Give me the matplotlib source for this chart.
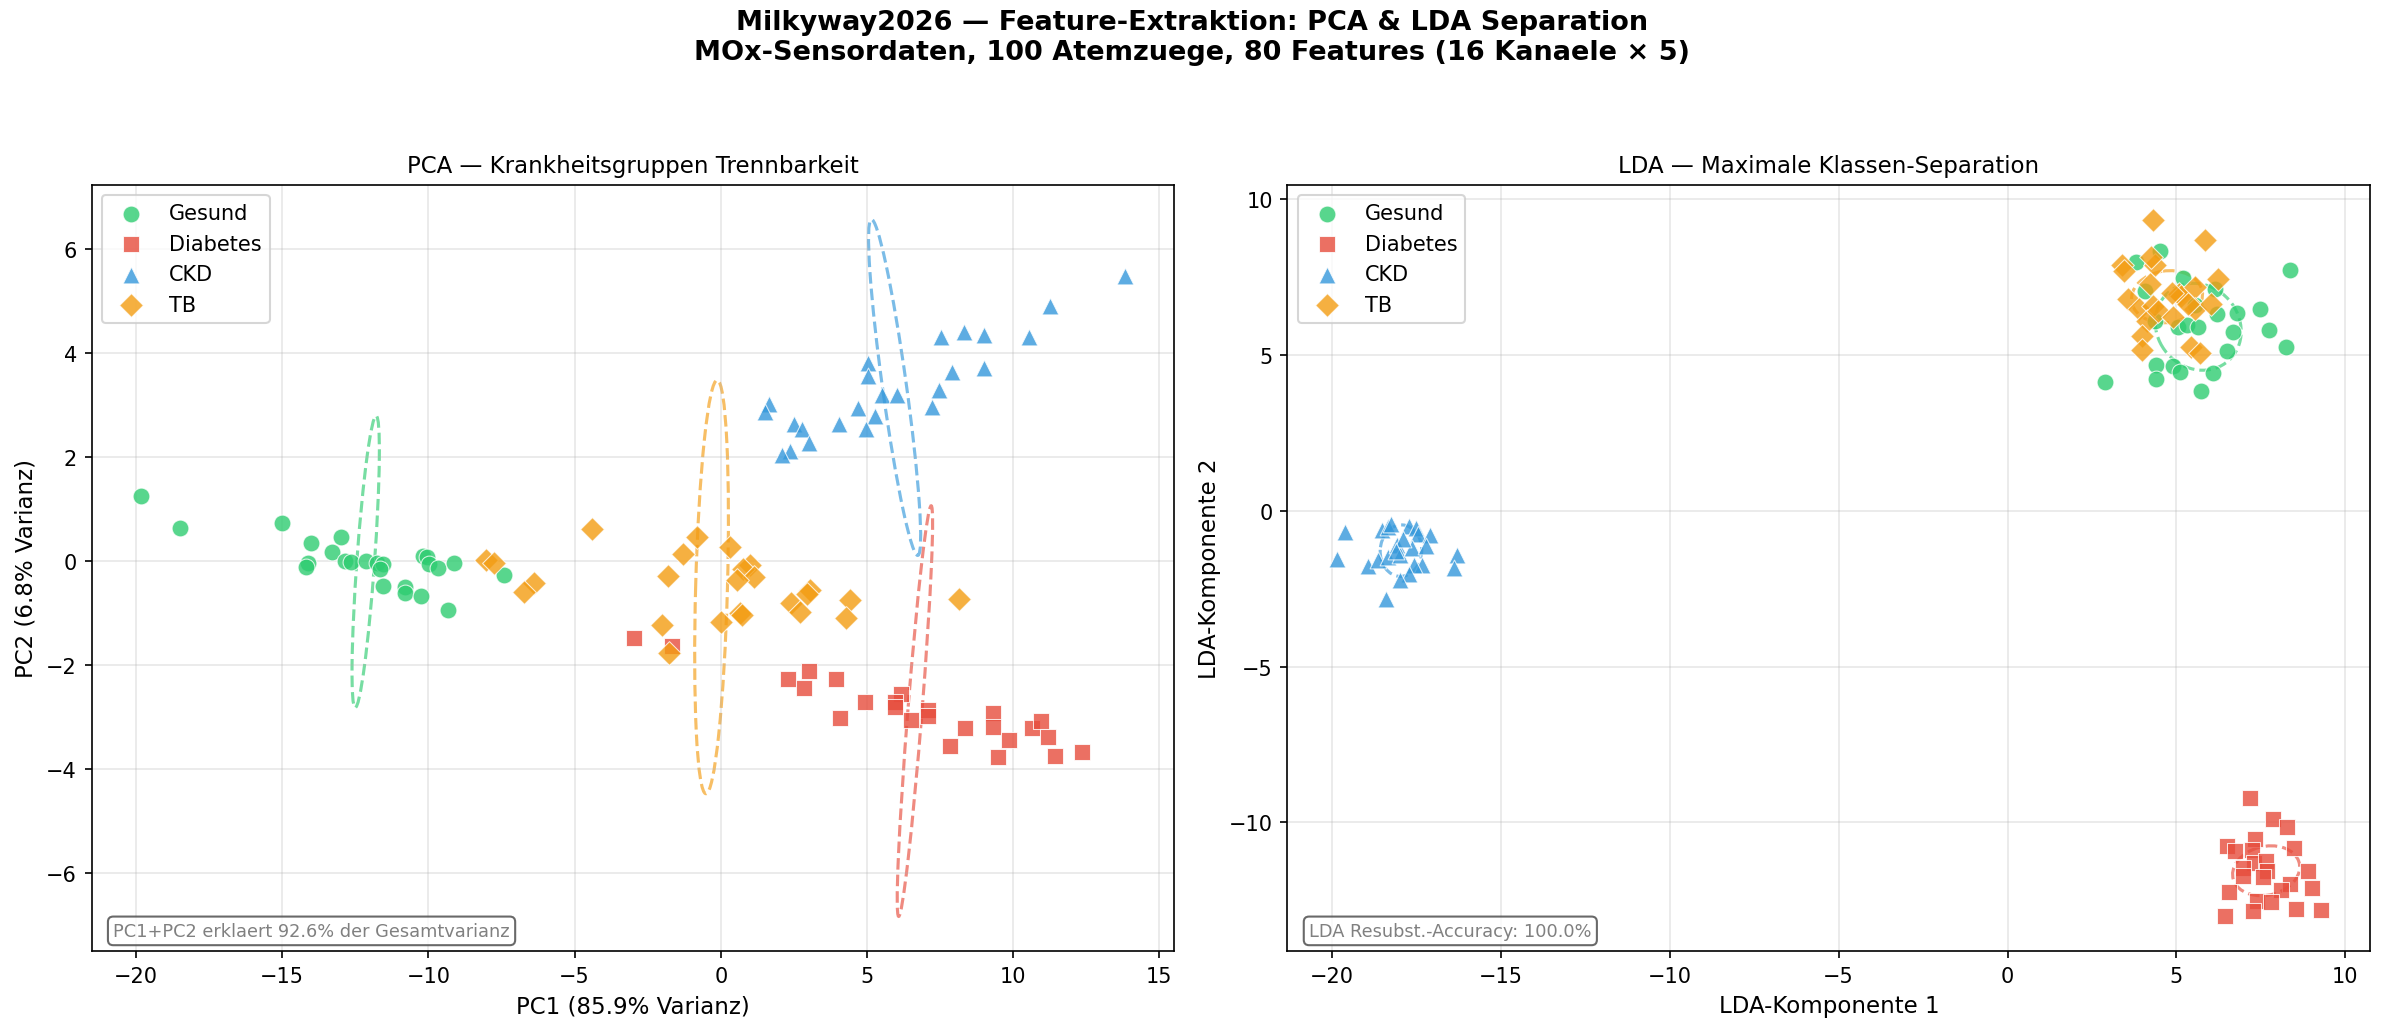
import numpy as np
import matplotlib
matplotlib.use("Agg")
import matplotlib.pyplot as plt
from matplotlib.patches import Ellipse

# group names, colours, markers
groups = ["Gesund", "Diabetes", "CKD", "TB"]
colors = ["#2ecc71", "#e74c3c", "#3498db", "#f39c12"]
markers = ["o", "s", "^", "D"]

# --- PCA scores ---
pca_gesund_x = [-19.84, -18.50, -15.01, -14.02, -12.99, -13.29, -14.12, -14.19, -12.87, -12.64,
                -12.13, -11.76, -11.54, -11.65, -11.57, -10.79, -10.79, -10.24, -10.18, -10.05,
                -9.99, -9.66, -9.13, -9.32, -7.43]
pca_gesund_y = [1.26, 0.63, 0.74, 0.34, 0.46, 0.17, -0.03, -0.12, 0.01, -0.02,
                0.01, -0.03, -0.06, -0.15, -0.48, -0.49, -0.62, -0.68, 0.10, 0.08,
                -0.05, -0.13, -0.03, -0.95, -0.26]

pca_diabetes_x = [-2.97, -1.67, 2.30, 3.02, 2.84, 3.94, 4.93, 4.07, 6.16, 5.94,
                  5.94, 6.51, 7.10, 7.10, 7.83, 8.35, 9.31, 9.31, 9.48, 9.86,
                  10.65, 10.96, 11.19, 11.43, 12.35]
pca_diabetes_y = [-1.47, -1.64, -2.27, -2.12, -2.45, -2.27, -2.71, -3.02, -2.56, -2.71,
                  -2.80, -3.06, -2.86, -2.98, -3.56, -3.21, -2.93, -3.20, -3.77, -3.44,
                  -3.21, -3.08, -3.39, -3.74, -3.67]

pca_ckd_x = [13.82, 11.25, 7.54, 8.32, 9.00, 10.54, 5.03, 5.03, 7.91, 9.00,
             5.51, 6.03, 7.47, 7.22, 4.68, 5.28, 4.05, 4.95, 1.65, 1.52,
             2.49, 2.78, 3.02, 2.37, 2.10]
pca_ckd_y = [5.48, 4.91, 4.31, 4.40, 4.34, 4.31, 3.81, 3.56, 3.63, 3.71,
             3.20, 3.19, 3.29, 2.96, 2.94, 2.80, 2.63, 2.54, 3.03, 2.86,
             2.63, 2.54, 2.28, 2.12, 2.05]

pca_tb_x = [-8.02, -7.76, -6.38, -6.73, -4.40, -0.82, -1.29, -1.81, 0.31, 0.98,
            0.77, 1.14, 0.54, -2.01, 0.00, 0.64, 0.71, -1.78, 3.05, 2.94,
            2.40, 2.71, 4.43, 4.28, 8.14]
pca_tb_y = [0.03, -0.04, -0.42, -0.60, 0.62, 0.46, 0.13, -0.28, 0.28, -0.08,
            -0.15, -0.30, -0.37, -1.22, -1.17, -1.00, -1.03, -1.77, -0.55, -0.63,
            -0.80, -0.97, -0.75, -1.09, -0.72]

# --- LDA scores ---
lda_gesund_x = [8.36, 2.90, 4.50, 3.79, 5.20, 4.08, 6.15, 7.46, 6.80, 6.20,
                7.73, 6.67, 8.24, 6.50, 5.04, 5.31, 5.63, 4.40, 4.89, 5.12,
                4.40, 6.08, 5.74, 4.38, 5.55]
lda_gesund_y = [7.72, 4.11, 8.32, 7.97, 7.47, 7.04, 7.11, 6.47, 6.35, 6.29,
                5.79, 5.74, 5.23, 5.12, 5.89, 5.96, 5.87, 4.68, 4.62, 4.45,
                4.21, 4.40, 3.82, 6.08, 6.60]

lda_diabetes_x = [7.18, 7.86, 8.27, 6.50, 6.72, 7.32, 7.24, 8.48, 7.31, 7.66,
                  6.97, 7.68, 7.56, 6.96, 8.91, 8.37, 9.01, 8.11, 6.56, 7.40,
                  7.81, 8.54, 9.28, 7.27, 6.44]
lda_diabetes_y = [-9.23, -9.89, -10.13, -10.74, -10.90, -10.54, -10.88, -10.83, -11.30, -11.23,
                  -11.46, -11.55, -11.75, -11.71, -11.54, -11.97, -12.10, -12.18, -12.23, -12.53,
                  -12.55, -12.77, -12.82, -12.85, -13.01]

lda_ckd_x = [-19.62, -19.86, -18.92, -18.65, -18.33, -18.52, -18.35, -18.25, -18.06, -17.99,
             -17.73, -17.51, -17.44, -17.10, -17.63, -17.22, -17.32, -17.57, -17.73, -17.99,
             -16.31, -16.40, -18.39, -17.90, -18.10]
lda_ckd_y = [-0.69, -1.55, -1.78, -1.57, -1.49, -0.62, -0.53, -0.43, -1.10, -1.42,
             -0.48, -0.56, -0.75, -0.78, -1.20, -1.14, -1.76, -1.74, -2.02, -2.21,
             -1.42, -1.84, -2.85, -0.90, -1.30]

lda_tb_x = [4.31, 5.86, 3.39, 3.44, 4.38, 4.26, 6.23, 4.23, 3.57, 3.88,
            4.30, 4.13, 5.07, 5.15, 5.56, 5.56, 6.02, 3.98, 3.98, 5.44,
            5.71, 4.87, 5.34, 4.46, 4.90]
lda_tb_y = [9.33, 8.69, 7.86, 7.68, 7.86, 8.14, 7.43, 7.25, 6.77, 6.45,
            6.56, 6.08, 6.93, 6.88, 7.18, 6.45, 6.61, 5.60, 5.15, 5.26,
            5.04, 6.99, 6.61, 6.40, 6.20]

pca_var = [85.9, 6.8]
pca_var_total = 92.6
lda_accuracy = 100.0


def spread_ellipse(ax, x, y, color):
    """1-sigma ellipse from the group covariance"""
    x = np.asarray(x)
    y = np.asarray(y)
    cov = np.cov(x, y)
    vals, vecs = np.linalg.eigh(cov)
    angle = np.degrees(np.arctan2(vecs[1, 0], vecs[0, 0]))
    ell = Ellipse((x.mean(), y.mean()), 2 * np.sqrt(vals[1]), 2 * np.sqrt(vals[0]),
                  angle=angle, facecolor="none", edgecolor=color,
                  linestyle="--", linewidth=1.5, alpha=0.65)
    ax.add_patch(ell)


def scatter_groups(ax, data):
    for (x, y), name, c, m in zip(data, groups, colors, markers):
        ax.scatter(x, y, s=65, c=c, marker=m, alpha=0.8,
                   edgecolors="white", linewidths=0.5, label=name, zorder=3)
        spread_ellipse(ax, x, y, c)


fig = plt.figure(figsize=(15.9, 6.8933), dpi=150)
ax1 = fig.add_axes([0.0384, 0.0791, 0.4539, 0.7413])
ax2 = fig.add_axes([0.5398, 0.0791, 0.4540, 0.7413])

pca_data = [(pca_gesund_x, pca_gesund_y), (pca_diabetes_x, pca_diabetes_y),
            (pca_ckd_x, pca_ckd_y), (pca_tb_x, pca_tb_y)]
lda_data = [(lda_gesund_x, lda_gesund_y), (lda_diabetes_x, lda_diabetes_y),
            (lda_ckd_x, lda_ckd_y), (lda_tb_x, lda_tb_y)]

box_style = dict(boxstyle="round", facecolor="white", edgecolor="#444444", alpha=0.8)

# PCA
scatter_groups(ax1, pca_data)
ax1.set_xlabel(f"PC1 ({pca_var[0]:.1f}% Varianz)", fontsize=11)
ax1.set_ylabel(f"PC2 ({pca_var[1]:.1f}% Varianz)", fontsize=11)
ax1.set_title("PCA \u2014 Krankheitsgruppen Trennbarkeit", fontsize=11)
ax1.legend(loc="upper left", fontsize=10)
ax1.grid(True, alpha=0.3)
ax1.text(0.02, 0.02, f"PC1+PC2 erklaert {pca_var_total:.1f}% der Gesamtvarianz",
         transform=ax1.transAxes, fontsize=8.5, color="gray", bbox=box_style)

# LDA
scatter_groups(ax2, lda_data)
ax2.set_xlabel("LDA-Komponente 1", fontsize=11)
ax2.set_ylabel("LDA-Komponente 2", fontsize=11)
ax2.set_title("LDA \u2014 Maximale Klassen-Separation", fontsize=11)
ax2.legend(loc="upper left", fontsize=10)
ax2.grid(True, alpha=0.3)
ax2.text(0.02, 0.02, f"LDA Resubst.-Accuracy: {lda_accuracy:.1f}%",
         transform=ax2.transAxes, fontsize=8.5, color="gray", bbox=box_style)

fig.suptitle("Milkyway2026 \u2014 Feature-Extraktion: PCA & LDA Separation\n"
             "MOx-Sensordaten, 100 Atemzuege, 80 Features (16 Kanaele \u00d7 5)",
             fontsize=13, fontweight="bold", y=0.99)

fig.savefig("out.png", dpi=150)
